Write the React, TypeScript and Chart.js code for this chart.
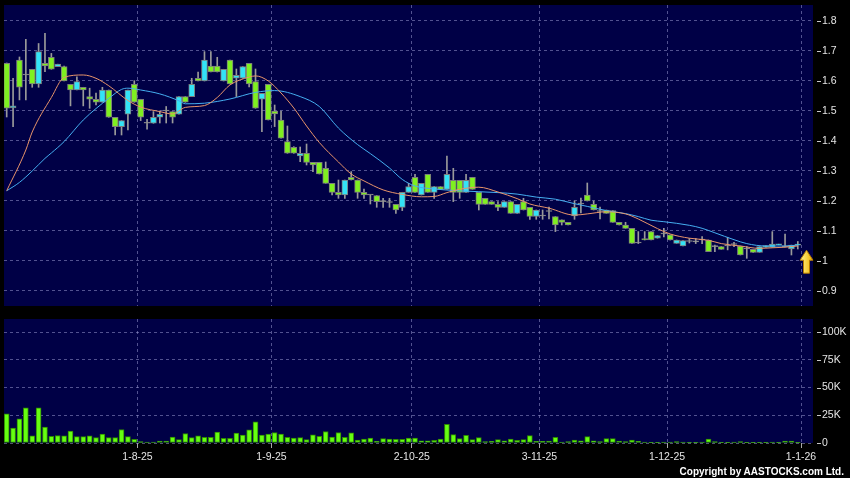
import React, { useEffect, useRef } from 'react';
import { Chart, registerables } from 'chart.js';
Chart.register(...registerables);

// ---- data (one entry per trading day, 3-Jul-2025 .. 31-Dec-2025) ----
const opens = [1.659,1.51,1.67,1.62,1.639,1.59,1.659,1.679,1.648,1.648,1.589,1.57,1.579,1.548,1.539,1.529,1.57,1.479,1.448,1.489,1.589,1.539,1.459,1.459,1.479,1.5,1.498,1.489,1.548,1.548,1.609,1.6,1.65,1.65,1.6,1.67,1.609,1.609,1.659,1.598,1.539,1.589,1.5,1.47,1.398,1.379,1.35,1.359,1.329,1.329,1.309,1.259,1.229,1.22,1.279,1.27,1.229,1.22,1.218,1.198,1.195,1.189,1.179,1.229,1.279,1.22,1.289,1.229,1.248,1.239,1.269,1.269,1.229,1.279,1.229,1.209,1.198,1.189,1.179,1.198,1.159,1.198,1.179,1.149,1.15,1.165,1.148,1.137,1.129,1.15,1.19,1.22,1.189,1.165,1.17,1.168,1.129,1.12,1.109,1.06,1.075,1.098,1.076,1.09,1.087,1.059,1.05,1.065,1.064,1.07,1.07,1.048,1.048,1.05,1.055,1.05,1.04,1.039,1.029,1.045,1.045,1.054,1.047,1.04,1.053];
const highs = [1.66,1.609,1.68,1.739,1.639,1.725,1.759,1.692,1.656,1.65,1.589,1.614,1.579,1.576,1.56,1.579,1.57,1.479,1.468,1.57,1.601,1.539,1.472,1.498,1.5,1.515,1.498,1.548,1.548,1.609,1.63,1.698,1.698,1.679,1.639,1.67,1.64,1.648,1.659,1.64,1.559,1.589,1.52,1.5,1.45,1.381,1.38,1.39,1.329,1.329,1.33,1.259,1.27,1.27,1.298,1.27,1.24,1.22,1.218,1.209,1.209,1.189,1.229,1.259,1.289,1.259,1.289,1.248,1.248,1.35,1.309,1.269,1.289,1.279,1.229,1.209,1.198,1.198,1.198,1.198,1.189,1.209,1.179,1.17,1.17,1.18,1.148,1.137,1.129,1.2,1.21,1.26,1.2,1.18,1.17,1.168,1.129,1.129,1.109,1.098,1.098,1.098,1.085,1.109,1.087,1.07,1.068,1.075,1.075,1.081,1.07,1.053,1.048,1.079,1.062,1.05,1.048,1.039,1.048,1.051,1.098,1.056,1.09,1.053,1.065];
const lows = [1.48,1.448,1.537,1.537,1.579,1.579,1.631,1.639,1.648,1.6,1.517,1.57,1.517,1.509,1.52,1.529,1.479,1.42,1.42,1.437,1.529,1.468,1.439,1.459,1.46,1.46,1.46,1.489,1.529,1.548,1.6,1.6,1.63,1.63,1.6,1.59,1.548,1.609,1.58,1.509,1.431,1.47,1.448,1.409,1.359,1.359,1.331,1.32,1.298,1.29,1.259,1.22,1.209,1.209,1.27,1.209,1.209,1.19,1.179,1.179,1.179,1.159,1.168,1.229,1.229,1.22,1.229,1.209,1.239,1.239,1.198,1.209,1.229,1.239,1.17,1.189,1.189,1.168,1.179,1.159,1.159,1.17,1.139,1.139,1.139,1.14,1.098,1.12,1.12,1.139,1.16,1.2,1.17,1.14,1.159,1.129,1.12,1.109,1.059,1.058,1.07,1.07,1.076,1.08,1.07,1.059,1.05,1.06,1.058,1.058,1.031,1.031,1.039,1.037,1.048,1.02,1.009,1.029,1.029,1.045,1.045,1.054,1.047,1.02,1.04];
const closes = [1.509,1.517,1.579,1.62,1.59,1.698,1.65,1.639,1.656,1.6,1.57,1.598,1.57,1.539,1.529,1.57,1.479,1.448,1.468,1.57,1.529,1.479,1.459,1.479,1.489,1.5,1.479,1.548,1.529,1.589,1.6,1.67,1.63,1.63,1.639,1.59,1.619,1.648,1.59,1.509,1.559,1.47,1.49,1.409,1.359,1.359,1.359,1.329,1.32,1.29,1.259,1.229,1.22,1.27,1.27,1.229,1.22,1.22,1.198,1.198,1.195,1.17,1.229,1.248,1.229,1.259,1.229,1.248,1.239,1.289,1.229,1.229,1.269,1.239,1.189,1.189,1.189,1.179,1.198,1.159,1.189,1.17,1.149,1.17,1.15,1.165,1.12,1.129,1.12,1.179,1.19,1.2,1.17,1.165,1.159,1.129,1.12,1.109,1.059,1.06,1.07,1.07,1.085,1.09,1.07,1.07,1.068,1.065,1.064,1.07,1.031,1.048,1.039,1.05,1.055,1.02,1.04,1.029,1.048,1.051,1.056,1.056,1.047,1.053,1.056];
const volumes = [26200,13400,21700,31800,6500,31800,14300,6000,6800,6500,10700,5700,5700,6500,4800,8000,4800,4800,12200,5700,3300,1200,900,900,1800,1800,5400,3000,8600,4800,6500,5100,5100,9800,4200,4200,8900,7100,11900,19000,7100,8000,9500,8000,5100,4500,4800,3000,7400,6000,10400,5400,9500,5100,9200,2700,3600,4500,1500,3900,3600,3300,3300,4500,4500,2000,2000,2400,3600,16800,7600,4000,7000,3000,4900,1200,1500,3000,2000,3600,2400,3000,6700,1500,1500,1800,5200,900,1200,2700,2000,5800,2000,1200,4000,4000,1800,1200,2700,1500,900,300,300,900,900,1200,900,600,600,900,3600,1200,600,600,900,1200,600,600,300,600,900,300,1800,1800,300];

// moving averages (day number, value)
const maShortDays = [1,4,5,8,10,13,15,17,20,22,25,27,29,32,34,36,39,40,42,44,46,48,50,53,55,57,60,63,66,68,70,72,75,78,81,83,86,90,92,95,98,100,103,105,108,111,113,116,119,121,123,125];
const maShortVals = [1.234,1.37,1.43,1.545,1.612,1.62,1.609,1.584,1.535,1.513,1.498,1.49,1.512,1.518,1.545,1.587,1.613,1.617,1.6,1.56,1.51,1.45,1.395,1.33,1.29,1.267,1.237,1.222,1.214,1.215,1.228,1.239,1.246,1.23,1.208,1.19,1.176,1.153,1.157,1.164,1.157,1.14,1.108,1.09,1.076,1.069,1.058,1.05,1.042,1.044,1.046,1.05];
const maLongDays = [1,3,5,7,8,10,13,17,19,20,22,25,28,29,32,36,40,43,47,50,53,56,58,61,63,65,68,72,75,78,81,84,87,90,92,95,98,100,102,104,108,110,112,115,117,120,123,125];
const maLongVals = [1.234,1.262,1.3,1.342,1.36,1.398,1.47,1.542,1.572,1.576,1.57,1.557,1.534,1.524,1.526,1.54,1.562,1.568,1.548,1.515,1.443,1.388,1.358,1.31,1.272,1.25,1.24,1.234,1.231,1.228,1.223,1.213,1.206,1.191,1.182,1.168,1.158,1.148,1.136,1.131,1.119,1.109,1.094,1.071,1.058,1.05,1.05,1.053];

// month boundaries (between trading days) and their labels
const monthBreaks = [21.5, 42.5, 64.5, 84.5, 104.5, 125.5];
const monthLabels = ['1-8-25', '1-9-25', '2-10-25', '3-11-25', '1-12-25', '1-1-26'];
const priceTicks = [0.9, 1, 1.1, 1.2, 1.3, 1.4, 1.5, 1.6, 1.7, 1.8];
const priceTickLabels = ['0.9', '1', '1.1', '1.2', '1.3', '1.4', '1.5', '1.6', '1.7', '1.8'];
const volTicks = [0, 25000, 50000, 75000, 100000];
const volTickLabels = ['0', '25K', '50K', '75K', '100K'];

// ---- styling ----
const NAVY = '#000046';
const GRID = 'rgba(150,150,205,0.55)';
const FONT = 'Liberation Sans, Arial, Helvetica, sans-serif';
const LABEL = '#e4e4e4';
const UP = '#33e3f7';
const DOWN = '#7ff020';
const FLAT = '#a0a0a0';
const X_MIN = 0.577;
const X_MAX = 127.38;

const bgPlugin = {
  id: 'navyBg',
  beforeDraw(chart: any) {
    const { ctx, chartArea: a } = chart;
    ctx.save();
    ctx.fillStyle = NAVY;
    ctx.fillRect(a.left, a.top, a.right - a.left, a.bottom - a.top);
    ctx.restore();
  },
};

const tickDashPlugin = {
  id: 'tickDash',
  afterDraw(chart: any) {
    const y = chart.scales.y;
    const ctx = chart.ctx;
    const r = chart.chartArea.right;
    ctx.save();
    ctx.strokeStyle = '#c8c8c8';
    ctx.lineWidth = 1;
    y.ticks.forEach((t: any) => {
      const py = Math.round(y.getPixelForValue(t.value)) + 0.5;
      ctx.beginPath();
      ctx.moveTo(r + 4, py);
      ctx.lineTo(r + 8, py);
      ctx.stroke();
    });
    ctx.restore();
  },
};

const arrowPlugin = {
  id: 'lastArrow',
  afterDatasetsDraw(chart: any) {
    const { ctx, chartArea: a, scales } = chart;
    const tipY = scales.y.getPixelForValue(closes[closes.length - 1]) + 6;
    const cx = a.right - 6.5;
    ctx.save();
    const g = ctx.createLinearGradient(cx - 6, 0, cx + 6, 0);
    g.addColorStop(0, '#fff38a');
    g.addColorStop(1, '#f2b400');
    ctx.fillStyle = g;
    ctx.strokeStyle = '#b57a00';
    ctx.lineWidth = 1;
    ctx.beginPath();
    ctx.moveTo(cx, tipY);
    ctx.lineTo(cx + 6.5, tipY + 10);
    ctx.lineTo(cx + 3, tipY + 10);
    ctx.lineTo(cx + 3, tipY + 23);
    ctx.lineTo(cx - 3, tipY + 23);
    ctx.lineTo(cx - 3, tipY + 10);
    ctx.lineTo(cx - 6.5, tipY + 10);
    ctx.closePath();
    ctx.fill();
    ctx.stroke();
    ctx.restore();
  },
};

const candleColor = (i: number) =>
  closes[i] > opens[i] ? UP : closes[i] < opens[i] ? DOWN : FLAT;

const zeroPadding = (s: any) => {
  s.paddingTop = 0;
  s.paddingBottom = 0;
  s.paddingLeft = 0;
  s.paddingRight = 0;
};

function xScale(showLabels: boolean) {
  return {
    type: 'linear',
    min: X_MIN,
    max: X_MAX,
    bounds: 'data',
    offset: false,
    afterBuildTicks: (s: any) => {
      s.ticks = monthBreaks.map((v) => ({ value: v }));
    },
    afterFit: (s: any) => {
      s.height = showLabels ? 35 : 0;
      zeroPadding(s);
    },
    ticks: {
      display: showLabels,
      autoSkip: false,
      maxRotation: 0,
      color: LABEL,
      padding: 3,
      font: { family: FONT, size: 10.5 },
      callback: (_v: any, i: number) => monthLabels[i],
    },
    grid: {
      color: GRID,
      lineWidth: 1,
      offset: false,
      drawTicks: showLabels,
      tickLength: 5,
      tickColor: '#a8a8a8',
      tickBorderDash: [],
    },
    border: { display: false, dash: [3, 3] },
  };
}

function yScale(min: number, max: number, ticks: number[], labels: string[]) {
  return {
    type: 'linear',
    position: 'right',
    min,
    max,
    bounds: 'data',
    afterBuildTicks: (s: any) => {
      s.ticks = ticks.map((v) => ({ value: v }));
    },
    afterFit: (s: any) => {
      s.width = 37;
      zeroPadding(s);
    },
    ticks: {
      color: LABEL,
      padding: 9,
      font: { family: FONT, size: 10.5 },
      callback: (_v: any, i: number) => labels[i],
    },
    grid: { color: GRID, lineWidth: 1, drawTicks: false },
    border: { display: false, dash: [3, 3] },
  };
}

export default function App() {
  const priceRef = useRef<HTMLCanvasElement | null>(null);
  const volRef = useRef<HTMLCanvasElement | null>(null);

  useEffect(() => {
    const price = new Chart(priceRef.current as HTMLCanvasElement, {
      type: 'line',
      data: {
        datasets: [
          {
            type: 'line',
            label: 'MA short',
            data: maShortDays.map((d, i) => ({ x: d, y: maShortVals[i] })),
            borderColor: '#e8946a',
            borderWidth: 1,
            pointRadius: 0,
            cubicInterpolationMode: 'monotone',
            order: 0,
          },
          {
            type: 'line',
            label: 'MA long',
            data: maLongDays.map((d, i) => ({ x: d, y: maLongVals[i] })),
            borderColor: '#45aef0',
            borderWidth: 1,
            pointRadius: 0,
            cubicInterpolationMode: 'monotone',
            order: 0,
          },
          {
            type: 'bar',
            label: 'body',
            data: opens.map((o, i) => ({ x: i + 1, y: [o, closes[i]] })),
            backgroundColor: opens.map((_o, i) => candleColor(i)),
            borderColor: '#7c7c7c',
            borderWidth: 1,
            borderSkipped: false,
            barThickness: 6,
            minBarLength: 1,
            grouped: false,
            order: 1,
          },
          {
            type: 'bar',
            label: 'wick',
            data: highs.map((h, i) => ({ x: i + 1, y: [lows[i], h] })),
            backgroundColor: '#9a9a9a',
            borderWidth: 0,
            barThickness: 1,
            grouped: false,
            order: 2,
          },
        ] as any,
      },
      options: {
        responsive: false,
        maintainAspectRatio: false,
        animation: false,
        layout: { padding: { left: 4, top: 5, right: 0, bottom: 0 } },
        plugins: { legend: { display: false }, tooltip: { enabled: false } },
        scales: {
          x: xScale(false),
          y: yScale(0.85, 1.8533, priceTicks, priceTickLabels),
        } as any,
      },
      plugins: [bgPlugin, tickDashPlugin, arrowPlugin],
    });

    const vol = new Chart(volRef.current as HTMLCanvasElement, {
      type: 'line',
      data: {
        datasets: [
          {
            type: 'bar',
            label: 'volume',
            data: volumes.map((v, i) => ({ x: i + 1, y: v })),
            backgroundColor: '#66ff11',
            borderColor: '#2f8a00',
            borderWidth: 1,
            borderSkipped: false,
            barThickness: 5,
            grouped: false,
          },
        ] as any,
      },
      options: {
        responsive: false,
        maintainAspectRatio: false,
        animation: false,
        layout: { padding: { left: 4, top: 13, right: 0, bottom: 0 } },
        plugins: { legend: { display: false }, tooltip: { enabled: false } },
        scales: {
          x: xScale(true),
          y: yScale(0, 111800, volTicks, volTickLabels),
        } as any,
      },
      plugins: [bgPlugin, tickDashPlugin],
    });

    return () => {
      price.destroy();
      vol.destroy();
    };
  }, []);

  return (
    <div
      style={{
        position: 'fixed',
        left: 0,
        top: 0,
        width: 850,
        height: 478,
        background: '#000',
        overflow: 'hidden',
      }}
    >
      <canvas
        ref={priceRef}
        width={850}
        height={306}
        style={{ position: 'absolute', left: 0, top: 0, width: 850, height: 306 }}
      />
      <canvas
        ref={volRef}
        width={850}
        height={172}
        style={{ position: 'absolute', left: 0, top: 306, width: 850, height: 172 }}
      />
      <div
        style={{
          position: 'absolute',
          right: 6,
          top: 466,
          color: '#ffffff',
          font: `bold 10px ${FONT}`,
          lineHeight: '12px',
          whiteSpace: 'nowrap',
        }}
      >
        Copyright by AASTOCKS.com Ltd.
      </div>
    </div>
  );
}
